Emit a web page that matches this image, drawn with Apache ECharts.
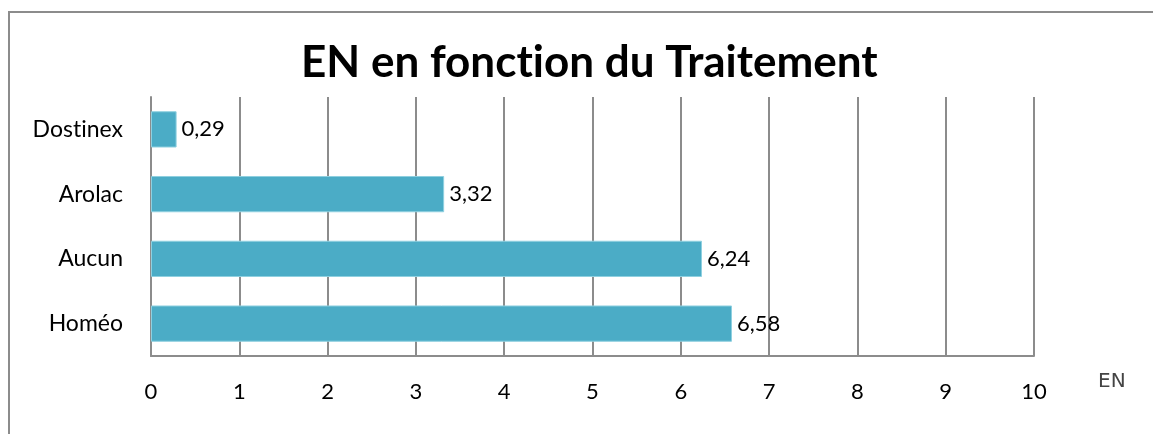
<!DOCTYPE html>
<html>
<head>
<meta charset="utf-8">
<script src="https://cdn.jsdelivr.net/npm/echarts@6/dist/echarts.min.js"></script>
<style>
  html, body { margin: 0; padding: 0; background: #fff; }
  #frame {
    position: absolute; left: 8px; top: 11px; width: 1200px; height: 500px;
    border-left: 2px solid #8c8c8c; border-top: 2px solid #8c8c8c;
  }
  #chart { position: absolute; left: 0; top: 0; width: 1153px; height: 434px; }
</style>
</head>
<body>
<div id="frame"></div>
<div id="chart"></div>
<script>
// data, bottom to top as drawn on the y axis
const traitements = ["Homéo", "Aucun", "Arolac", "Dostinex"];
const valeursEN = [6.58, 6.24, 3.32, 0.29];
const ticksX = [0, 10, 1]; // min, max, interval

const font = "Lato, 'Open Sans', sans-serif";
// Lato joins "ti" into a ligature, break it with a zero width non-joiner
const noLig = s => s.replace(/ti/g, "t\u200ci");

const chart = echarts.init(document.getElementById("chart"));
chart.setOption({
  animation: false,
  title: {
    text: noLig("EN en fonction du Traitement"),
    left: 296,
    top: 36,
    textStyle: { fontFamily: font, fontSize: 44, fontWeight: "bold", color: "#000" }
  },
  grid: { left: 151, right: 119, top: 97, bottom: 78 },
  xAxis: {
    type: "value",
    min: ticksX[0],
    max: ticksX[1],
    interval: ticksX[2],
    name: "EN",
    nameLocation: "end",
    nameGap: 64,
    nameTextStyle: { fontFamily: "'DejaVu Sans', sans-serif", fontSize: 20, color: "#444", verticalAlign: "top", padding: [16, 0, 0, 0] },
    axisLine: { show: true, lineStyle: { color: "#8c8c8c", width: 2 } },
    axisTick: { show: false },
    axisLabel: { fontFamily: font, fontSize: 22, color: "#000", margin: 25 },
    splitLine: { show: true, lineStyle: { color: "#8c8c8c", width: 2 } }
  },
  yAxis: {
    type: "category",
    data: traitements,
    axisLine: { show: true, lineStyle: { color: "#8c8c8c", width: 2 } },
    axisTick: { show: false },
    axisLabel: { fontFamily: font, fontSize: 23, color: "#000", margin: 28, formatter: noLig }
  },
  series: [{
    type: "bar",
    data: valeursEN,
    barCategoryGap: "44%",
    itemStyle: { color: "#4bacc6", borderColor: "#8fd0e0", borderWidth: 1 },
    label: {
      show: true,
      position: "right",
      distance: 5,
      fontFamily: font,
      fontSize: 22,
      color: "#000",
      formatter: p => String(p.value).replace(".", ",")
    }
  }]
});
</script>
</body>
</html>
